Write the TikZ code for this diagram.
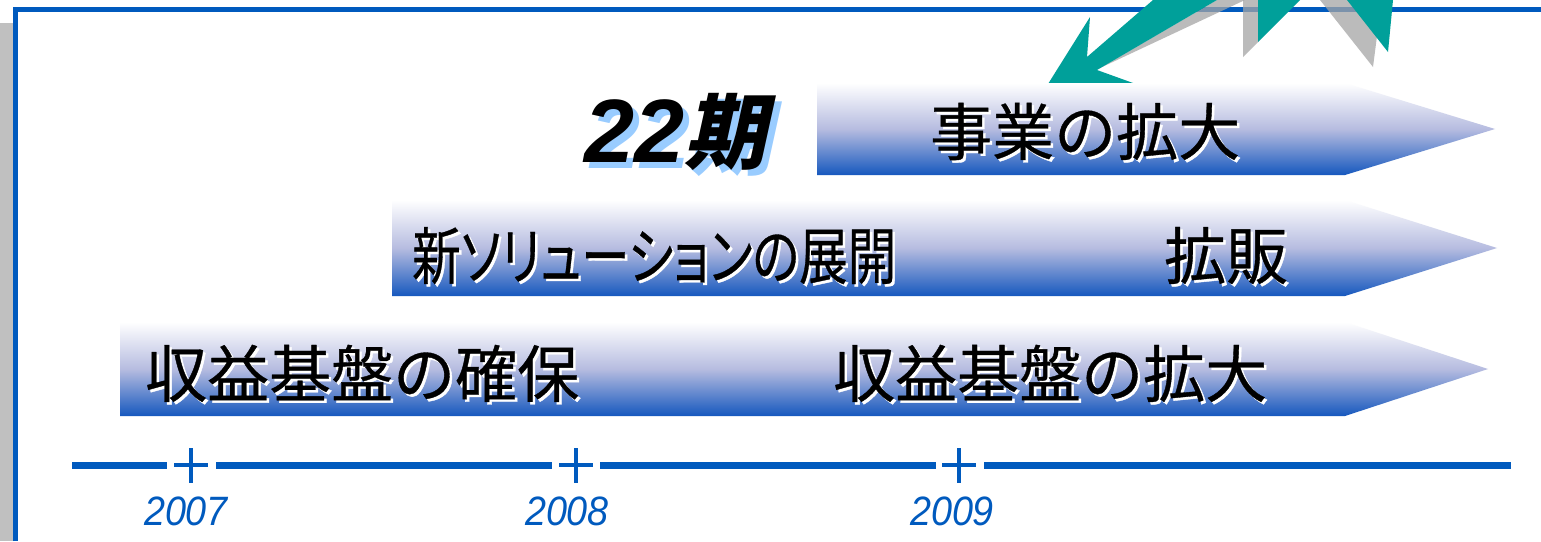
\documentclass[tikz,border=0pt]{standalone}
\usepackage{graphicx}
\usepackage{fontspec}
\newfontfamily\jp[FakeBold=0.6]{Noto Sans CJK JP}
\newfontfamily\jpp[RawFeature=+palt,FakeBold=0.6]{Noto Sans CJK JP}
\newfontfamily\jpsl[FakeSlant=0.22]{Noto Sans CJK JP}
\newfontfamily\lib{Liberation Sans}
\definecolor{frameblue}{RGB}{0,90,190}
\definecolor{bandblue}{RGB}{22,88,190}
\definecolor{bandmid}{RGB}{182,188,224}
\definecolor{arrteal}{RGB}{0,160,154}
\definecolor{shgray}{RGB}{165,165,165}
\definecolor{sidegray}{RGB}{192,192,192}
\definecolor{skyshadow}{RGB}{153,204,255}
\tikzset{
  band/.style={top color=white, bottom color=bandblue, middle color=bandmid, draw=none},
  jtext/.style={anchor=base west, inner sep=0pt, font=\jp\fontsize{62}{62}\selectfont, text=black},
  jshadow/.style={jtext, text=white},
  year/.style={inner sep=0pt, font=\lib\itshape\fontsize{41}{41}\selectfont, text=frameblue},
  axis/.style={draw=frameblue, line width=7pt},
  tick/.style={draw=frameblue, line width=4.5pt},
  tealarrow/.style={fill=arrteal, draw=none},
  grayshadow/.style={fill=shgray, fill opacity=0.75, draw=none},
}
\begin{document}
\begin{tikzpicture}[x=1pt,y=-1pt]
\useasboundingbox (0,0) rectangle (1541,541);
\fill[white] (0,0) rectangle (1541,541);
% frame
\fill[sidegray] (0,23) rectangle (13,541);
\draw[frameblue, line width=5pt] (15,541) -- (15,9) -- (1541,9);
% top arrows
\fill[grayshadow] (1100,68) -- (1217,0) -- (1245,0) -- cycle;
\fill[grayshadow] (1243,0) -- (1258,0) -- (1258,42) -- (1243,57) -- cycle;
\fill[grayshadow] (1320,0) -- (1350,0) -- (1377,36) -- (1373,67) -- cycle;
\fill[tealarrow] (1043,92) -- (1090,17) -- (1087,57) -- (1153,0) -- (1217,0) -- (1097,70) -- (1133,83) -- cycle;
\fill[tealarrow] (1258,0) -- (1300,0) -- (1258,42) -- cycle;
\fill[tealarrow] (1347,0) -- (1393,0) -- (1388,52) -- cycle;
% bands
\shade[band] (817,83) -- (1345,83) -- (1495,129) -- (1345,175) -- (817,175) -- cycle;
\shade[band] (392,200) -- (1345,200) -- (1497,248) -- (1345,296) -- (392,296) -- cycle;
\shade[band] (120,322) -- (1345,322) -- (1488,369) -- (1345,416) -- (120,416) -- cycle;
% band texts
\node[jshadow] (t1s) at (932.5,157.5) {事業の拡大};
\node[jtext] (t1) at (930,155) {事業の拡大};
\node[jshadow] (t2s) at (414.5,281.5) {\resizebox{484pt}{\height}{\jpp 新ソリューションの展開}};
\node[jtext] (t2) at (412,279) {\resizebox{484pt}{\height}{\jpp 新ソリューションの展開}};
\node[jshadow] (t3s) at (1166.5,281.5) {拡販};
\node[jtext] (t3) at (1164,279) {拡販};
\node[jshadow] (t4s) at (147.5,399.5) {収益基盤の確保};
\node[jtext] (t4) at (145,397) {収益基盤の確保};
\node[jshadow] (t5s) at (835.5,399.5) {収益基盤の拡大};
\node[jtext] (t5) at (833,397) {収益基盤の拡大};
% 22期
\node[anchor=base west, inner sep=0pt, text=skyshadow] (kis) at (590,168)
  {\lib\bfseries\itshape\fontsize{90}{90}\selectfont 22\jpsl\bfseries\fontsize{82}{82}\selectfont 期};
\node[anchor=base west, inner sep=0pt, text=black] (ki) at (584,162)
  {\lib\bfseries\itshape\fontsize{90}{90}\selectfont 22\jpsl\bfseries\fontsize{82}{82}\selectfont 期};
% timeline
\coordinate (a0) at (72,465);
\coordinate (a1) at (167,465);
\coordinate (p1) at (191,465);
\coordinate (a2) at (216,465);
\coordinate (a3) at (552,465);
\coordinate (p2) at (576,465);
\coordinate (a4) at (600,465);
\coordinate (a5) at (936,465);
\coordinate (p3) at (959,465);
\coordinate (a6) at (984,465);
\coordinate (a7) at (1511,465);
\draw[axis] (a0) -- (a1);
\draw[axis] (a2) -- (a3);
\draw[axis] (a4) -- (a5);
\draw[axis] (a6) -- (a7);
\foreach \p in {p1,p2,p3}{
  \draw[tick] ([xshift=-17pt]\p) -- ([xshift=17pt]\p);
  \draw[tick] ([yshift=17pt]\p) -- ([yshift=-18pt]\p);
}
\node[year] (y1) at (186,511) {\scalebox{0.92}[1]{2007}};
\node[year] (y2) at (567,511) {\scalebox{0.92}[1]{2008}};
\node[year] (y3) at (952,511) {\scalebox{0.92}[1]{2009}};
\end{tikzpicture}
\end{document}
